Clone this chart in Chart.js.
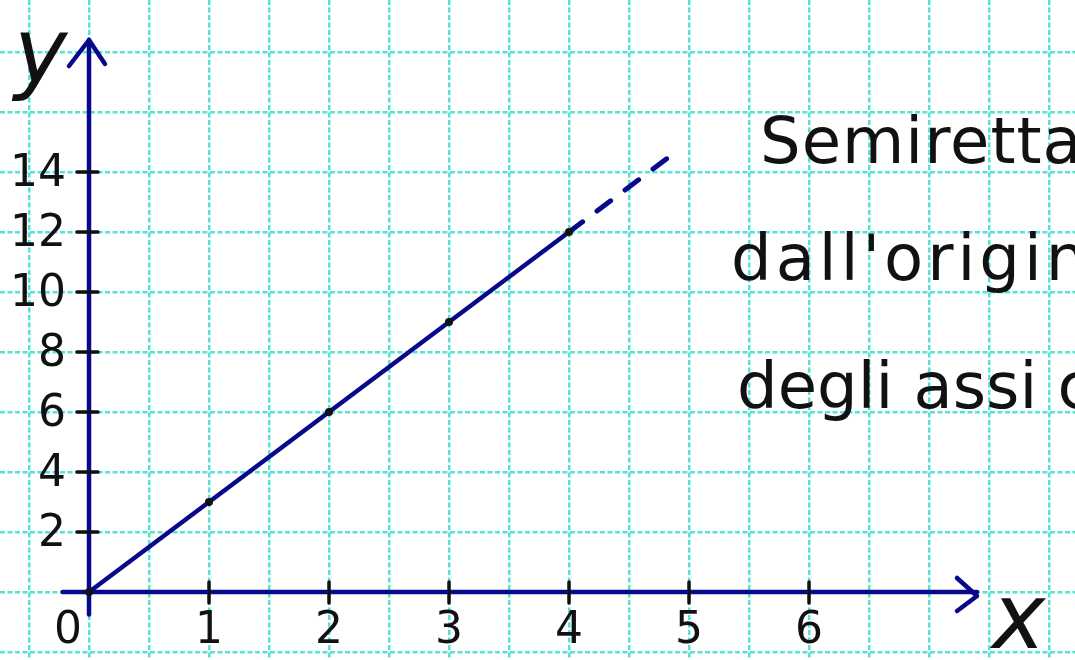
<!DOCTYPE html>
<html lang="it">
<head>
<meta charset="utf-8">
<title>Semiretta</title>
<script src="https://cdn.jsdelivr.net/npm/chart.js@4.4.1/dist/chart.umd.min.js"></script>
<style>
  html, body { margin: 0; padding: 0; background: #fff; }
  #wrap { width: 1075px; height: 660px; position: relative; }
</style>
</head>
<body>
<div id="wrap"><canvas id="grafico"></canvas></div>
<script>
// semiretta y = 3x, punti segnati sul quaderno
const xVal = [0, 1, 2, 3, 4];
const yVal = [0, 3, 6, 9, 12];
// prolungamento tratteggiato oltre x = 4
const xProl = [4, 4.85];
const yProl = [12, 14.55];
// valori scritti sugli assi
const xTicks = [1, 2, 3, 4, 5, 6];
const yTicks = [2, 4, 6, 8, 10, 12, 14];
// righe del quaderno (mezzo quadretto in x, due unità in y)
const xGrid = [-0.5, 0, 0.5, 1, 1.5, 2, 2.5, 3, 3.5, 4, 4.5, 5, 5.5, 6, 6.5, 7, 7.5, 8];
const yGrid = [-2, 0, 2, 4, 6, 8, 10, 12, 14, 16, 18];
// scritta a destra
const righe = ["Semiretta", "dall'origine", "degli assi cartesiani"];

const blu = '#08088a';
const nero = '#111';
const mano = '"DejaVu Sans", "Noto Sans", sans-serif';

// assi con frecce, tacche ed etichette
const assi = {
  id: 'assi',
  beforeDatasetsDraw(chart) {
    const { ctx, scales: { x, y } } = chart;
    const x0 = x.getPixelForValue(0), y0 = y.getPixelForValue(0);
    const xa = x.getPixelForValue(-0.22), xb = x.getPixelForValue(7.4);
    const ya = y.getPixelForValue(-0.75), yb = y.getPixelForValue(18.4);
    ctx.save();
    ctx.strokeStyle = blu;
    ctx.lineWidth = 4.5;
    ctx.lineCap = 'round';
    ctx.lineJoin = 'round';
    // asse x
    ctx.beginPath(); ctx.moveTo(xa, y0); ctx.lineTo(xb, y0); ctx.stroke();
    ctx.beginPath(); ctx.moveTo(xb - 20, y0 - 14); ctx.lineTo(xb, y0 + 4); ctx.lineTo(xb - 20, y0 + 19); ctx.stroke();
    // asse y
    ctx.beginPath(); ctx.moveTo(x0, ya); ctx.lineTo(x0, yb); ctx.stroke();
    ctx.beginPath(); ctx.moveTo(x0 - 20, yb + 26); ctx.lineTo(x0, yb); ctx.lineTo(x0 + 16, yb + 24); ctx.stroke();
    ctx.restore();
  },
  afterDraw(chart) {
    const { ctx, scales: { x, y } } = chart;
    const x0 = x.getPixelForValue(0), y0 = y.getPixelForValue(0);
    ctx.save();
    ctx.strokeStyle = nero;
    ctx.fillStyle = nero;
    ctx.lineWidth = 3.5;
    ctx.lineCap = 'round';
    // tacche
    xTicks.forEach(v => {
      const px = x.getPixelForValue(v);
      ctx.beginPath(); ctx.moveTo(px, y0 - 10); ctx.lineTo(px, y0 + 11); ctx.stroke();
    });
    yTicks.forEach(v => {
      const py = y.getPixelForValue(v);
      ctx.beginPath(); ctx.moveTo(x0 - 12, py); ctx.lineTo(x0 + 9, py); ctx.stroke();
    });
    // numeri
    ctx.font = '44px ' + mano;
    ctx.textBaseline = 'middle';
    ctx.textAlign = 'center';
    xTicks.forEach(v => ctx.fillText(String(v), x.getPixelForValue(v), y0 + 40));
    ctx.fillText('0', x0 - 21, y0 + 40);
    ctx.textAlign = 'right';
    yTicks.forEach(v => ctx.fillText(String(v), x0 - 23, y.getPixelForValue(v) + 3));
    // nomi degli assi
    ctx.font = 'italic 90px ' + mano;
    ctx.textAlign = 'left';
    ctx.textBaseline = 'alphabetic';
    ctx.fillText('y', 14, 82);
    ctx.fillText('x', 992, 648);
    // scritta
    ctx.font = '64px ' + mano;
    ctx.letterSpacing = '1px';
    ctx.fillText(righe[0], 760, 163);
    ctx.letterSpacing = '4px';
    ctx.fillText(righe[1], 731, 280);
    ctx.letterSpacing = '0px';
    ctx.fillText(righe[2], 737, 408);
    ctx.restore();
  }
};

function griglia(valori) {
  return scale => { scale.ticks = valori.map(v => ({ value: v })); };
}

new Chart(document.getElementById('grafico'), {
  type: 'scatter',
  data: {
    datasets: [
      {
        data: xVal.map((v, i) => ({ x: v, y: yVal[i] })),
        showLine: true,
        borderColor: blu,
        borderWidth: 4.5,
        pointRadius: 4,
        pointBackgroundColor: nero,
        pointBorderWidth: 0
      },
      {
        data: xProl.map((v, i) => ({ x: v, y: yProl[i] })),
        showLine: true,
        borderColor: blu,
        borderWidth: 5,
        borderDash: [17, 18],
        borderCapStyle: 'round',
        pointRadius: 0
      }
    ]
  },
  options: {
    responsive: true,
    maintainAspectRatio: false,
    animation: false,
    layout: { padding: 0, autoPadding: false },
    plugins: { legend: { display: false }, tooltip: { enabled: false } },
    scales: {
      x: {
        type: 'linear',
        min: -89 / 120,
        max: (1075 - 89) / 120,
        afterBuildTicks: griglia(xGrid),
        ticks: { display: false },
        grid: { color: '#55e3d6', lineWidth: 2.5, drawTicks: false },
        border: { display: false, dash: [5, 2.5] }
      },
      y: {
        type: 'linear',
        min: -(660 - 592) / 30,
        max: 592 / 30,
        afterBuildTicks: griglia(yGrid),
        ticks: { display: false },
        grid: { color: '#55e3d6', lineWidth: 2.5, drawTicks: false },
        border: { display: false, dash: [5, 2.5] }
      }
    }
  },
  plugins: [assi]
});
</script>
</body>
</html>
